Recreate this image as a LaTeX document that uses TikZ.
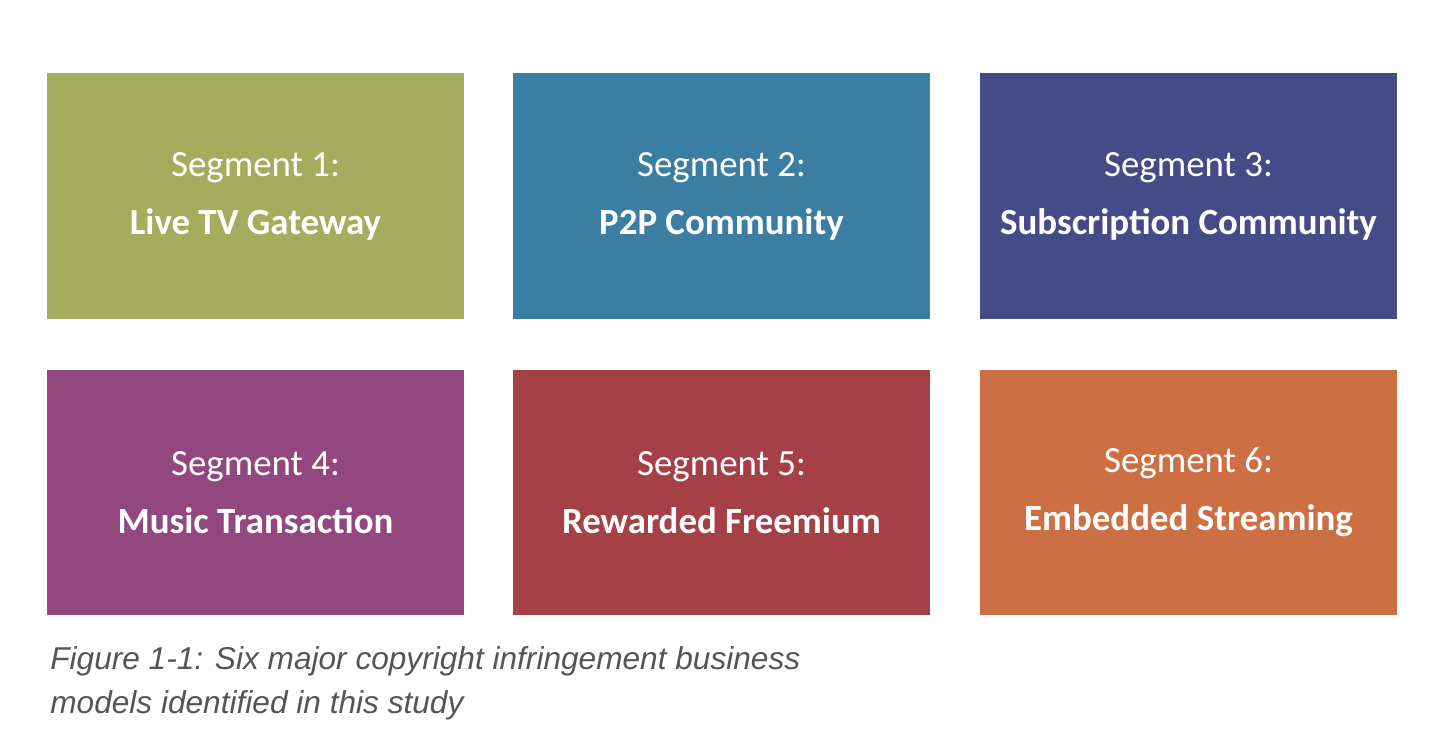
\documentclass[tikz,border=0pt]{standalone}
\usepackage{fontspec}
\setmainfont{Carlito}
\newfontfamily\capfont{Liberation Sans}
\definecolor{segA}{HTML}{A4AC5E}
\definecolor{segB}{HTML}{3B7EA1}
\definecolor{segC}{HTML}{454B87}
\definecolor{segD}{HTML}{93477F}
\definecolor{segE}{HTML}{A54046}
\definecolor{segF}{HTML}{CC7044}
\definecolor{capgray}{HTML}{555555}
\tikzset{
  segbox/.style={minimum width=8.34cm, minimum height=4.92cm, inner sep=0pt,
    text=white, align=center, font=\fontsize{21}{33}\selectfont},
}
\begin{document}
\begin{tikzpicture}[x=0.02cm, y=-0.02cm]
\useasboundingbox (0,0) rectangle (1440,746);
% first row
\node[segbox, fill=segA] (s1) at (255.5,196) {Segment 1:\\\textbf{Live TV Gateway}};
\node[segbox, fill=segB] (s2) at (721.5,196) {Segment 2:\\\textbf{P2P Community}};
\node[segbox, fill=segC] (s3) at (1188.5,196) {Segment 3:\\\textbf{Subscription Community}};
% second row
\node[segbox, fill=segD] (s4) at (255.5,492.5) {Segment 4:\\\textbf{Music Transaction}};
\node[segbox, fill=segE] (s5) at (721.5,492.5) {Segment 5:\\\textbf{Rewarded Freemium}};
\node[segbox, fill=segF] (s6) at (1188.5,492.5) {Segment 6:\\\textbf{Embedded Streaming}};
% caption
\node[anchor=north west, align=left, text=capgray, inner sep=0pt,
  font=\capfont\itshape\fontsize{18}{25}\selectfont] (cap) at (50,646)
  {Figure 1-1: Six major copyright infringement business\\models identified in this study};
\end{tikzpicture}
\end{document}
